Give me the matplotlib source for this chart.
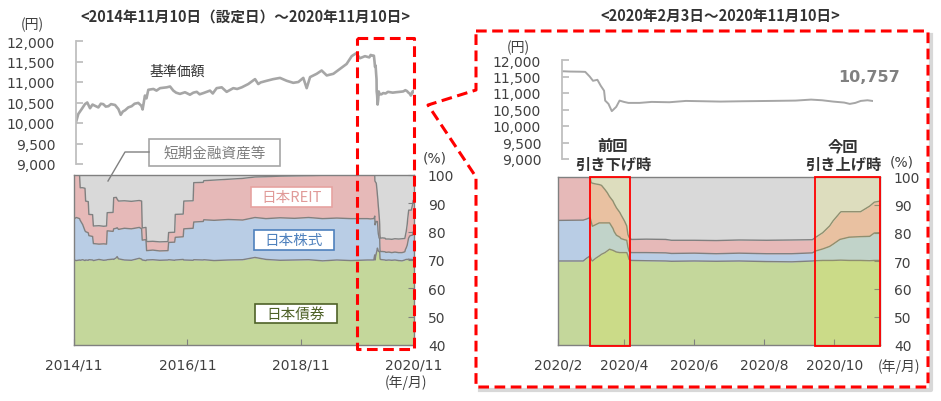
import matplotlib
matplotlib.use("Agg")
import matplotlib.pyplot as plt
import matplotlib.dates as mdates
import numpy as np
import pandas as pd
from matplotlib.patches import Rectangle
from matplotlib.lines import Line2D

plt.rcParams['font.family'] = ['DejaVu Sans', 'Noto Sans CJK JP']
JP = ['Noto Sans CJK JP', 'DejaVu Sans']

# ---------------- data ----------------
nav_long_dates = [
    "2014-11-10", "2014-11-25", "2014-12-17", "2015-01-07", "2015-01-22", "2015-02-09",
    "2015-02-25", "2015-03-13", "2015-04-04", "2015-04-20", "2015-05-06", "2015-05-22",
    "2015-06-08", "2015-06-25", "2015-07-21", "2015-08-12", "2015-08-27", "2015-09-10",
    "2015-09-24", "2015-10-15", "2015-11-06", "2015-11-25", "2015-12-19", "2016-01-08",
    "2016-01-16", "2016-01-31", "2016-02-10", "2016-02-22", "2016-03-26", "2016-04-15",
    "2016-05-08", "2016-06-20", "2016-07-12", "2016-08-02", "2016-08-20", "2016-09-14",
    "2016-10-17", "2016-11-18", "2016-12-10", "2017-01-01", "2017-01-20", "2017-02-13",
    "2017-03-28", "2017-04-15", "2017-05-10", "2017-06-12", "2017-07-14", "2017-08-26",
    "2017-09-20", "2017-10-20", "2017-12-01", "2018-01-14", "2018-02-04", "2018-02-20",
    "2018-03-31", "2018-05-12", "2018-06-25", "2018-08-07", "2018-09-19", "2018-10-22",
    "2018-11-23", "2018-12-15", "2019-01-06", "2019-02-18", "2019-03-22", "2019-04-24",
    "2019-06-06", "2019-07-19", "2019-08-31", "2019-10-03", "2019-10-31", "2019-11-26",
    "2019-12-28", "2020-01-25",
]
nav_long_values = [
    10020, 10220, 10340, 10460, 10500, 10360,
    10450, 10420, 10380, 10470, 10460, 10400,
    10410, 10460, 10440, 10340, 10200, 10280,
    10310, 10380, 10410, 10470, 10490, 10420,
    10330, 10670, 10600, 10810, 10830, 10790,
    10850, 10870, 10890, 10790, 10740, 10710,
    10750, 10690, 10740, 10760, 10700, 10730,
    10790, 10720, 10850, 10870, 10760, 10850,
    10830, 10870, 10950, 11070, 10950, 10990,
    11030, 11070, 11100, 11030, 10980, 11000,
    11100, 10850, 11120, 11200, 11280, 11160,
    11200, 11320, 11440, 11630, 11700, 11580,
    11630, 11600,
]

nav_recent_dates = [
    "2020-02-03", "2020-02-10", "2020-02-20", "2020-02-24", "2020-02-28", "2020-03-02",
    "2020-03-06", "2020-03-09", "2020-03-12", "2020-03-13", "2020-03-16", "2020-03-19",
    "2020-03-23", "2020-03-26", "2020-03-30", "2020-04-03", "2020-04-13", "2020-04-24",
    "2020-05-10", "2020-05-25", "2020-06-10", "2020-06-25", "2020-07-15", "2020-08-10",
    "2020-09-01", "2020-09-15", "2020-09-25", "2020-10-05", "2020-10-15", "2020-10-20",
    "2020-10-25", "2020-10-30", "2020-11-05", "2020-11-10",
]
nav_recent_values = [
    11660, 11650, 11645, 11640, 11500, 11370,
    11400, 11220, 11070, 10770, 10670, 10450,
    10580, 10770, 10730, 10700, 10700, 10730,
    10720, 10760, 10750, 10740, 10750, 10760,
    10770, 10800, 10780, 10740, 10710, 10670,
    10700, 10760, 10780, 10757,
]

# allocation boundaries (%, cumulative from bottom): bonds / +stocks / +REIT ; rest = short-term assets
alloc_long_dates = [
    "2014-11-10", "2014-11-25", "2014-12-16", "2014-12-20", "2015-01-05", "2015-01-20",
    "2015-01-24", "2015-02-10", "2015-02-14", "2015-03-10", "2015-03-15", "2015-04-20",
    "2015-05-20", "2015-06-08", "2015-06-12", "2015-07-20", "2015-07-24", "2015-08-10",
    "2015-08-15", "2015-08-24", "2015-10-01", "2015-11-15", "2016-01-05", "2016-01-20",
    "2016-01-24", "2016-02-17", "2016-02-21", "2016-04-01", "2016-05-15", "2016-07-08",
    "2016-07-12", "2016-08-20", "2016-08-24", "2016-10-14", "2016-10-18", "2016-12-17",
    "2016-12-21", "2017-02-20", "2017-02-24", "2017-05-01", "2017-08-01", "2017-11-01",
    "2018-01-20", "2018-04-01", "2018-07-01", "2018-10-01", "2019-01-01", "2019-04-01",
    "2019-07-01", "2019-10-01", "2020-01-15",
]
alloc_long_bond = [
    70.0, 69.8, 70.0, 69.9, 70.1, 69.8,
    70.0, 69.9, 70.1, 70.0, 69.8, 70.2,
    69.9, 70.0, 70.1, 70.3, 70.2, 70.8,
    71.2, 70.4, 70.0, 69.9, 70.6, 70.3,
    70.0, 69.8, 70.0, 70.1, 69.9, 70.0,
    70.1, 69.9, 70.0, 70.2, 70.0, 69.9,
    70.1, 70.0, 70.1, 69.8, 70.0, 70.1,
    70.9, 70.2, 69.9, 70.0, 70.1, 69.7,
    70.0, 69.8, 70.0,
]
alloc_long_stock = [
    84.5, 85.0, 84.6, 84.0, 82.5, 80.3,
    80.0, 79.6, 78.6, 78.3, 75.8, 75.6,
    75.7, 75.6, 80.3, 80.1, 81.0, 81.2,
    81.4, 80.8, 81.2, 81.0, 81.5, 81.0,
    77.0, 77.2, 73.3, 73.5, 73.2, 73.3,
    76.2, 76.3, 78.0, 78.2, 81.0, 81.2,
    83.4, 83.6, 84.2, 84.0, 84.3, 84.1,
    85.0, 84.6, 84.9, 84.7, 85.0, 84.6,
    84.8, 84.6, 84.6,
]
alloc_long_reit = [
    100.0, 100.0, 100.0, 95.5, 95.5, 95.3,
    90.8, 90.6, 86.1, 86.0, 82.0, 82.1,
    81.9, 82.0, 86.7, 86.8, 92.0, 92.1,
    91.5, 90.8, 90.9, 90.7, 91.0, 90.8,
    81.3, 81.5, 76.5, 76.6, 76.4, 76.5,
    79.7, 79.8, 86.1, 86.2, 90.8, 90.9,
    97.3, 97.4, 98.0, 98.2, 98.5, 98.8,
    99.3, 99.4, 99.6, 99.7, 99.8, 99.9,
    100.0, 100.0, 100.0,
]

alloc_recent_dates = [
    "2020-02-03", "2020-02-25", "2020-02-28", "2020-03-02", "2020-03-03", "2020-03-04",
    "2020-03-07", "2020-03-10", "2020-03-12", "2020-03-15", "2020-03-17", "2020-03-19",
    "2020-03-22", "2020-03-23", "2020-03-25", "2020-03-28", "2020-03-29", "2020-04-01",
    "2020-04-03", "2020-04-04", "2020-04-05", "2020-04-07", "2020-04-20", "2020-05-07",
    "2020-05-12", "2020-06-01", "2020-06-20", "2020-07-10", "2020-08-03", "2020-08-25",
    "2020-09-12", "2020-09-15", "2020-09-21", "2020-09-27", "2020-09-30", "2020-10-06",
    "2020-10-07", "2020-10-14", "2020-10-24", "2020-11-01", "2020-11-05", "2020-11-10",
]
alloc_recent_bond = [
    70.0, 70.0, 71.0, 71.8, 70.5, 70.0,
    71.0, 71.8, 72.4, 73.0, 73.6, 74.2,
    73.8, 73.6, 73.2, 73.0, 73.0, 73.0,
    73.0, 72.0, 70.6, 70.2, 70.1, 70.0,
    69.9, 70.0, 69.9, 70.0, 69.8, 69.7,
    70.0, 70.1, 70.2, 70.2, 70.2, 70.3,
    70.3, 70.2, 70.2, 70.1, 70.2, 70.2,
]
alloc_recent_stock = [
    84.5, 84.6, 85.0, 85.5, 84.0, 82.4,
    83.0, 83.6, 83.6, 83.6, 83.6, 83.6,
    81.6, 80.5, 79.2, 78.5, 78.0, 77.6,
    77.4, 75.0, 73.5, 73.0, 73.0, 72.9,
    72.7, 72.8, 72.6, 72.8, 72.6, 72.6,
    72.9, 73.6, 74.3, 75.2, 76.0, 77.7,
    77.8, 78.5, 78.7, 78.8, 80.0, 80.1,
]
alloc_recent_reit = [
    100.0, 100.0, 100.0, 99.8, 98.0, 97.8,
    97.5, 97.3, 97.0, 95.5, 94.4, 93.0,
    91.4, 90.5, 89.0, 87.3, 86.5, 84.3,
    82.5, 79.5, 78.5, 77.7, 77.8, 77.7,
    77.4, 77.4, 77.3, 77.5, 77.4, 77.5,
    77.6, 78.5, 80.1, 82.5, 84.3, 87.2,
    87.6, 87.6, 87.6, 89.6, 91.0, 91.4,
]

highlight_starts = ["2020-03-02", "2020-09-14"]
highlight_ends = ["2020-04-06", "2020-11-10"]
highlight_line1 = ["前回", "今回"]
highlight_line2 = ["引き下げ時", "引き上げ時"]
latest_nav_text = "10,757"

long_xticks = ["2014-11-10", "2016-11-10", "2018-11-10", "2020-11-10"]
long_xticklabels = ["2014/11", "2016/11", "2018/11", "2020/11"]
recent_xticks = ["2020-02-03", "2020-04-01", "2020-06-01", "2020-08-01", "2020-10-01"]
recent_xticklabels = ["2020/2", "2020/4", "2020/6", "2020/8", "2020/10"]
nav_ticks = [9000, 9500, 10000, 10500, 11000, 11500, 12000]
pct_ticks = [40, 50, 60, 70, 80, 90, 100]

title_long = "<2014年11月10日（設定日）～2020年11月10日>"
title_recent = "<2020年2月3日～2020年11月10日>"

# ---------------- helpers ----------------
def dn(lst):
    return mdates.date2num(pd.to_datetime(lst).to_pydatetime())

W, H = 941, 402
fig = plt.figure(figsize=(W / 100, H / 100), dpi=100)


def rect(l, t, r, b):
    return [l / W, 1 - b / H, (r - l) / W, (b - t) / H]


def fx(px):
    return px / W


def fy(py):
    return 1 - py / H


C_GRAY = '#d9d9d9'
C_REIT = '#e6b9b8'
C_STOCK = '#b9cde5'
C_BOND = '#c4d79b'
C_EDGE = '#808080'
C_TXT = '#404040'


def style_nav(ax, x0, x1):
    ax.set_xlim(x0, x1)
    ax.set_ylim(9000, 12000)
    for s in ['top', 'right', 'bottom']:
        ax.spines[s].set_visible(False)
    ax.spines['left'].set_color('#bfbfbf')
    ax.spines['left'].set_linewidth(1.3)
    ax.set_yticks(nav_ticks)
    ax.set_yticklabels([f"{v:,}" for v in nav_ticks])
    ax.tick_params(axis='y', direction='in', length=5, width=1.3, color='#bfbfbf',
                   labelsize=10, labelcolor=C_TXT, pad=15)
    ax.set_xticks([])
    ax.patch.set_alpha(0)


def style_alloc(ax, x0, x1, ticks, labels):
    ax.set_xlim(x0, x1)
    ax.set_ylim(40, 100)
    for s in ax.spines.values():
        s.set_color(C_EDGE)
        s.set_linewidth(1.0)
    ax.yaxis.tick_right()
    ax.set_yticks(pct_ticks)
    ax.set_yticklabels([str(v) for v in pct_ticks])
    ax.tick_params(axis='y', direction='in', length=4, color=C_EDGE,
                   labelsize=10, labelcolor=C_TXT, pad=10)
    ax.set_xticks(dn(ticks))
    ax.set_xticklabels(labels)
    ax.tick_params(axis='x', direction='in', length=4, color=C_EDGE,
                   labelsize=10, labelcolor=C_TXT, pad=9)


def draw_alloc(ax, d, b, s, r, lw=1.0):
    b = np.asarray(b); s = np.asarray(s); r = np.asarray(r)
    ax.fill_between(d, 0, b, color=C_BOND, lw=0)
    ax.fill_between(d, b, s, color=C_STOCK, lw=0)
    ax.fill_between(d, s, r, color=C_REIT, lw=0)
    ax.fill_between(d, r, 100, color=C_GRAY, lw=0)
    for top in (b, s, r):
        ax.plot(d, top, color=C_EDGE, lw=lw)


# ---------------- left (long period) ----------------
nav_all_d = np.concatenate([dn(nav_long_dates), dn(nav_recent_dates)])
nav_all_v = np.array(nav_long_values + nav_recent_values)
al_d = np.concatenate([dn(alloc_long_dates), dn(alloc_recent_dates)])
al_b = alloc_long_bond + alloc_recent_bond
al_s = alloc_long_stock + alloc_recent_stock
al_r = alloc_long_reit + alloc_recent_reit

ax1 = fig.add_axes(rect(76, 42, 414, 165))
ax1.plot(nav_all_d, nav_all_v, color='#a6a6a6', lw=1.9)
style_nav(ax1, dn(["2014-11-10"])[0], dn(["2020-11-10"])[0])

ax2 = fig.add_axes(rect(74, 176, 414, 346))
draw_alloc(ax2, al_d, al_b, al_s, al_r)
style_alloc(ax2, dn(["2014-11-10"])[0], dn(["2020-11-10"])[0], long_xticks, long_xticklabels)

# ---------------- right (recent period) ----------------
ax3 = fig.add_axes(rect(562, 61, 873, 160))
ax3.plot(dn(nav_recent_dates), nav_recent_values, color='#a6a6a6', lw=1.4)
style_nav(ax3, dn(["2020-02-03"])[0], dn(["2020-11-10"])[0])

ax4 = fig.add_axes(rect(558, 178, 880, 346))
draw_alloc(ax4, dn(alloc_recent_dates), alloc_recent_bond, alloc_recent_stock, alloc_recent_reit)
style_alloc(ax4, dn(["2020-02-03"])[0], dn(["2020-11-10"])[0], recent_xticks, recent_xticklabels)
for st, en in zip(highlight_starts, highlight_ends):
    a, b = dn([st])[0], dn([en])[0]
    ax4.axvspan(a, b, color='#ffff00', alpha=0.12, lw=0, zorder=3)
    ax4.add_patch(Rectangle((a, 39.6), b - a, 60.4, fill=False, ec='#ff0000', lw=1.3,
                            zorder=4, clip_on=False))

# ---------------- texts ----------------
fig.text(fx(245), fy(17), title_long, ha='center', va='center', fontsize=10.5,
         fontweight='bold', family=JP, color='#333333')
fig.text(fx(720), fy(16), title_recent, ha='center', va='center', fontsize=10.5,
         fontweight='bold', family=JP, color='#333333')
fig.text(fx(32), fy(25), "(円)", ha='center', va='center', fontsize=10, family=JP, color=C_TXT)
fig.text(fx(435), fy(159), "(%)", ha='center', va='center', fontsize=10, color=C_TXT)
fig.text(fx(406), fy(383), "(年/月)", ha='center', va='center', fontsize=10, family=JP, color=C_TXT)
fig.text(fx(518), fy(48), "(円)", ha='center', va='center', fontsize=10, family=JP, color=C_TXT)
fig.text(fx(902), fy(163), "(%)", ha='center', va='center', fontsize=10, color=C_TXT)
fig.text(fx(899), fy(367), "(年/月)", ha='center', va='center', fontsize=10, family=JP, color=C_TXT)
fig.text(fx(177), fy(72), "基準価額", ha='center', va='center', fontsize=10, family=JP, color='#333333')
fig.text(fx(869), fy(78), latest_nav_text, ha='center', va='center', fontsize=11.5,
         fontweight='bold', color='#808080')
for cx, l1, l2 in zip([613, 843], highlight_line1, highlight_line2):
    fig.text(fx(cx), fy(146), l1, ha='center', va='center', fontsize=11, fontweight='bold',
             family=JP, color='#333333')
    fig.text(fx(cx), fy(165), l2, ha='center', va='center', fontsize=11, fontweight='bold',
             family=JP, color='#333333')


def label_box(l, t, r, b, text, color, edge):
    fig.add_artist(Rectangle((fx(l), fy(b)), (r - l) / W, (b - t) / H, transform=fig.transFigure,
                             fc='white', ec=edge, lw=1.2, zorder=5))
    fig.text(fx((l + r) / 2), fy((t + b) / 2), text, ha='center', va='center', fontsize=10.5,
             family=JP, color=color, zorder=6)


label_box(149, 140, 280, 167, "短期金融資産等", '#7f7f7f', '#a6a6a6')
label_box(251, 188, 332, 208, "日本REIT", '#e09a98', '#e6a3a1')
label_box(254, 231, 334, 251, "日本株式", '#4f81bd', '#4f81bd')
label_box(255, 305, 337, 324, "日本債券", '#4f6228', '#4f6228')
fig.add_artist(Line2D([fx(149), fx(125), fx(108)], [fy(153), fy(153), fy(182)],
                      transform=fig.transFigure, color='#808080', lw=1.0, zorder=5))

# ---------------- red dashed callouts ----------------
dash = (0, (3.5, 1.8))
fig.add_artist(Line2D([fx(357), fx(414), fx(414), fx(357), fx(357)],
                      [fy(39), fy(39), fy(350), fy(350), fy(39)],
                      transform=fig.transFigure, color='#ff0000', lw=2.2, linestyle=dash, zorder=7))
fig.add_artist(Line2D([fx(931), fx(931), fx(480)], [fy(36), fy(391), fy(391)],
                      transform=fig.transFigure, color='#c8c8c8', lw=3, alpha=0.7, zorder=6))
px = [476, 928, 928, 476, 476, 428, 476, 476]
py = [32, 32, 388, 388, 178, 106, 91, 32]
fig.add_artist(Line2D([fx(v) for v in px], [fy(v) for v in py], transform=fig.transFigure,
                      color='#ff0000', lw=2.2, linestyle=dash, zorder=7))

fig.savefig("out.png", dpi=100)
